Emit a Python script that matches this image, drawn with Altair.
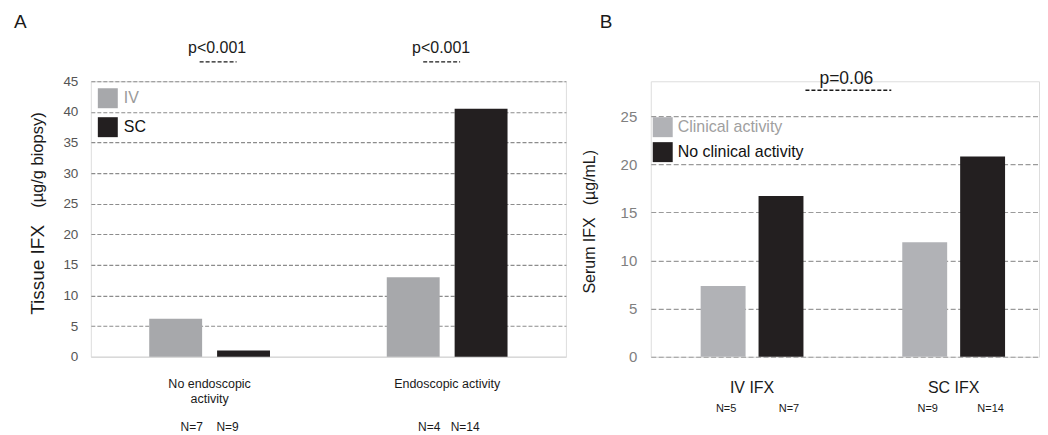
import altair as alt
import pandas as pd

# ---------------- data: panel A ----------------
a_categories = ["No endoscopic\nactivity", "Endoscopic activity"]
a_series = ["IV", "SC"]
a_iv = [6.2, 13.0]
a_sc = [1.0, 40.5]
a_n_iv = ["N=7", "N=4"]
a_n_sc = ["N=9", "N=14"]
a_ticks = [0, 5, 10, 15, 20, 25, 30, 35, 40, 45]
a_pvals = ["p<0.001", "p<0.001"]

# ---------------- data: panel B ----------------
b_categories = ["IV IFX", "SC IFX"]
b_series = ["Clinical activity", "No clinical activity"]
b_clin = [7.35, 11.9]
b_noclin = [16.7, 20.8]
b_n_clin = ["N=5", "N=9"]
b_n_noclin = ["N=7", "N=14"]
b_ticks = [0, 5, 10, 15, 20, 25]
b_pval = "p=0.06"

FONT = "Liberation Sans"
H = 276
WA = 476
WB = 389

dfA = pd.DataFrame({
    "cat": a_categories * 2,
    "series": [a_series[0]] * 2 + [a_series[1]] * 2,
    "value": a_iv + a_sc,
    "n": a_n_iv + a_n_sc,
})
catsA = pd.DataFrame({"cat": a_categories})
dfB = pd.DataFrame({
    "cat": b_categories * 2,
    "series": [b_series[0]] * 2 + [b_series[1]] * 2,
    "value": b_clin + b_noclin,
    "n": b_n_clin + b_n_noclin,
})
catsB = pd.DataFrame({"cat": b_categories})
one = pd.DataFrame({"k": [0]})


def annot_text(txt, px, py, size, color="#1a1a1a", angle=None, align="center", baseline="alphabetic"):
    kw = dict(text=txt, fontSize=size, color=color, align=align, baseline=baseline, font=FONT)
    if angle is not None:
        kw["angle"] = angle
    return alt.Chart(one).mark_text(**kw).encode(x=alt.value(px), y=alt.value(py))


def annot_rule(x1, x2, py):
    return alt.Chart(one).mark_rule(color="#1a1a1a", strokeDash=[4, 2], strokeWidth=1.3).encode(
        x=alt.value(x1), x2=alt.value(x2), y=alt.value(py))


# ---------------- panel A ----------------
xA = alt.X("cat:N", sort=a_categories, title=None,
           scale=alt.Scale(domain=a_categories, paddingInner=0, paddingOuter=0),
           axis=alt.Axis(labels=False, ticks=False, grid=False, domain=True,
                         domainColor="#d9d9d9", domainWidth=1.5))
yA = alt.Y("value:Q", title=None,
           scale=alt.Scale(domain=[0, 45], nice=False),
           axis=alt.Axis(values=a_ticks, grid=True, gridDash=[4, 2], gridColor="#8c8c8c", gridWidth=1.1,
                         gridOpacity=alt.condition("datum.value === 0", alt.value(0), alt.value(1)),
                         domain=False, ticks=False, labelPadding=13, labelFontSize=13.5,
                         labelColor="#555555", labelFont=FONT))
colorA = alt.Color("series:N", sort=a_series,
                   scale=alt.Scale(domain=a_series, range=["#a7a8ab", "#231f20"]),
                   legend=alt.Legend(title=None, orient="none", legendX=7, legendY=7, direction="vertical",
                                     symbolType="square", symbolSize=400, symbolStrokeWidth=0,
                                     symbolOpacity=1, labelFontSize=16, labelFont=FONT, labelOffset=6,
                                     rowPadding=9, padding=0,
                                     labelColor=alt.ExprRef(expr="datum.value === 'IV' ? '#9a9a9a' : '#111111'")))

barsA1 = alt.Chart(dfA).transform_filter(alt.datum.series == a_series[0]).mark_bar(
    width=53, xOffset=-34).encode(x=xA, y=yA, color=colorA)
barsA2 = alt.Chart(dfA).transform_filter(alt.datum.series == a_series[1]).mark_bar(
    width=53, xOffset=34).encode(x=xA, y=yA, color=colorA)
catTextA = alt.Chart(catsA).mark_text(fontSize=12.5, baseline="top", lineBreak="\n", lineHeight=15,
                                      color="#1a1a1a", font=FONT).encode(
    x=xA, y=alt.value(297), text="cat:N")
nIvA = alt.Chart(dfA).transform_filter(alt.datum.series == a_series[0]).mark_text(
    fontSize=12, baseline="top", dx=-18, color="#1a1a1a", font=FONT).encode(
    x=xA, y=alt.value(341), text="n:N")
nScA = alt.Chart(dfA).transform_filter(alt.datum.series == a_series[1]).mark_text(
    fontSize=12, baseline="top", dx=18, color="#1a1a1a", font=FONT).encode(
    x=xA, y=alt.value(341), text="n:N")

panelA = alt.layer(
    barsA1, barsA2, catTextA, nIvA, nScA,
    annot_text("A", -77, -53, 19, align="left"),
    annot_text(a_pvals[0], 126.5, -28, 16),
    annot_rule(109, 146, -19.5),
    annot_text(a_pvals[1], 351, -28, 16),
    annot_rule(333, 370, -19.5),
    annot_text("Tissue IFX", -53, 189, 19, angle=270, baseline="middle"),
    annot_text("(µg/g biopsy)", -53, 79, 16.5, angle=270, baseline="middle"),
).properties(width=WA, height=H)

# ---------------- panel B ----------------
xB = alt.X("cat:N", sort=b_categories, title=None,
           scale=alt.Scale(domain=b_categories, paddingInner=0.5, paddingOuter=0.2129, align=0.593),
           axis=None)
yB = alt.Y("value:Q", title=None,
           scale=alt.Scale(domain=[0, 25 * H / 241], nice=False),
           axis=alt.Axis(values=b_ticks, grid=True, gridDash=[5, 2.5], gridColor="#9a9a9a", gridWidth=1.2,
                         domain=False, ticks=False, labelPadding=14, labelFontSize=15,
                         labelColor="#808080", labelFont=FONT))
colorB = alt.Color("series:N", sort=b_series,
                   scale=alt.Scale(domain=b_series, range=["#b1b2b6", "#231f20"]),
                   legend=alt.Legend(title=None, orient="none", legendX=2, legendY=36, direction="vertical",
                                     symbolType="square", symbolSize=400, symbolStrokeWidth=0,
                                     symbolOpacity=1, labelFontSize=16, labelFont=FONT, labelOffset=5,
                                     rowPadding=5, padding=0,
                                     labelColor=alt.ExprRef(expr="datum.value === 'Clinical activity' ? '#a0a0a0' : '#111111'")))

barsB1 = alt.Chart(dfB).transform_filter(alt.datum.series == b_series[0]).mark_bar(
    width=45, xOffset=-29).encode(x=xB, y=yB, color=colorB)
barsB2 = alt.Chart(dfB).transform_filter(alt.datum.series == b_series[1]).mark_bar(
    width=45, xOffset=29).encode(x=xB, y=yB, color=colorB)
catTextB = alt.Chart(catsB).mark_text(fontSize=16, baseline="top", color="#1a1a1a", font=FONT).encode(
    x=xB, y=alt.value(299), text="cat:N")
nClB = alt.Chart(dfB).transform_filter(alt.datum.series == b_series[0]).mark_text(
    fontSize=11, baseline="top", dx=-26, color="#1a1a1a", font=FONT).encode(
    x=xB, y=alt.value(322), text="n:N")
nNoB = alt.Chart(dfB).transform_filter(alt.datum.series == b_series[1]).mark_text(
    fontSize=11, baseline="top", dx=37, color="#1a1a1a", font=FONT).encode(
    x=xB, y=alt.value(322), text="n:N")

panelB = alt.layer(
    barsB1, barsB2, catTextB, nClB, nNoB,
    annot_text("B", -51, -53, 19, align="left"),
    annot_text(b_pval, 196, 3, 17.5),
    annot_rule(155, 241, 9),
    annot_text("Serum IFX", -61, 174.5, 16, angle=270, baseline="middle"),
    annot_text("(µg/mL)", -61, 96.5, 16, angle=270, baseline="middle"),
).properties(width=WB, height=H)

chart = alt.hconcat(panelA, panelB, spacing=85, bounds="flush").resolve_scale(
    color="independent"
).properties(
    padding={"left": 5, "top": 4, "right": 0, "bottom": 0}
).configure_view(stroke=None).configure(font=FONT)

chart.save("out.html", embed_options={"renderer": "svg", "actions": False})
